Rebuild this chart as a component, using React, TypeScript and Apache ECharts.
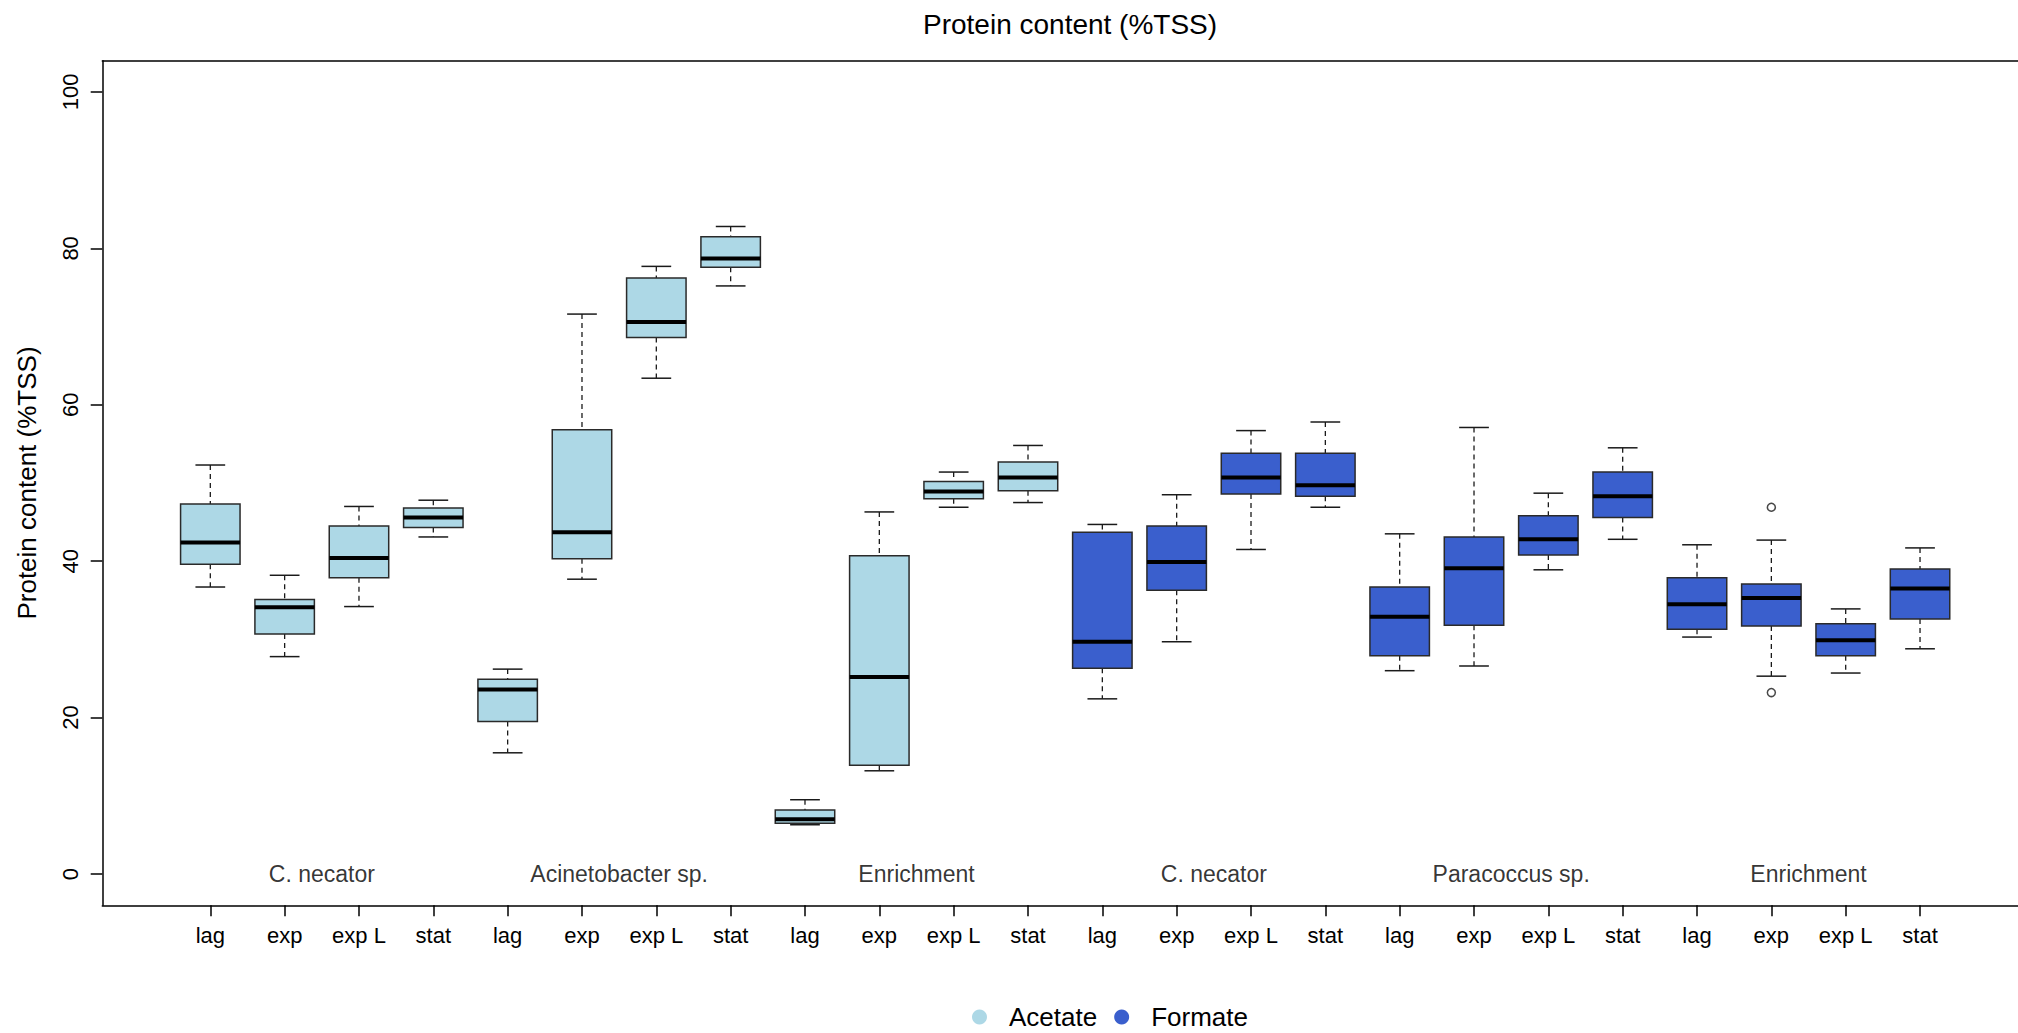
import React, { useEffect, useRef } from "react";
import * as echarts from "echarts";

// ---- data ----
const phaseLabels = ["lag", "exp", "exp L", "stat"];
const groupLabels = ["C. necator", "Acinetobacter sp.", "Enrichment", "C. necator", "Paracoccus sp.", "Enrichment"];
const groupCenters = [2.5, 6.5, 10.5, 14.5, 18.5, 22.5];
const seriesNames = ["Acetate", "Formate"];

const acetatePositions = [1, 2, 3, 4, 5, 6, 7, 8, 9, 10, 11, 12];
const acetateMin = [36.7, 27.8, 34.2, 43.1, 15.5, 37.7, 63.4, 75.2, 6.3, 13.2, 46.9, 47.5];
const acetateQ1 = [39.6, 30.7, 37.9, 44.3, 19.5, 40.3, 68.6, 77.6, 6.5, 13.9, 48.0, 49.0];
const acetateMedian = [42.4, 34.1, 40.4, 45.6, 23.6, 43.7, 70.6, 78.7, 7.0, 25.2, 48.9, 50.7];
const acetateQ3 = [47.3, 35.1, 44.5, 46.8, 24.9, 56.8, 76.2, 81.5, 8.2, 40.7, 50.2, 52.7];
const acetateMax = [52.3, 38.2, 47.0, 47.8, 26.2, 71.6, 77.7, 82.8, 9.5, 46.3, 51.4, 54.8];

const formatePositions = [13, 14, 15, 16, 17, 18, 19, 20, 21, 22, 23, 24];
const formateMin = [22.4, 29.7, 41.5, 46.9, 26.0, 26.6, 38.9, 42.8, 30.3, 25.3, 25.7, 28.8];
const formateQ1 = [26.3, 36.3, 48.6, 48.3, 27.9, 31.8, 40.8, 45.6, 31.3, 31.7, 27.9, 32.6];
const formateMedian = [29.7, 39.9, 50.7, 49.7, 32.9, 39.1, 42.8, 48.3, 34.5, 35.3, 29.9, 36.5];
const formateQ3 = [43.7, 44.5, 53.8, 53.8, 36.7, 43.1, 45.8, 51.4, 37.9, 37.1, 32.0, 39.0];
const formateMax = [44.7, 48.5, 56.7, 57.8, 43.5, 57.1, 48.7, 54.5, 42.1, 42.7, 33.9, 41.7];

const outlierPositions = [22, 22];
const outlierValues = [46.9, 23.2];

const yTickValues = [0, 20, 40, 60, 80, 100];
const xTickValues = [1, 2, 3, 4, 5, 6, 7, 8, 9, 10, 11, 12, 13, 14, 15, 16, 17, 18, 19, 20, 21, 22, 23, 24];

// ---- styles ----
const ACETATE_COLOR = "#ADD8E6";
const FORMATE_COLOR = "#3A5FCD";
const FONT = "'Liberation Sans', Arial, sans-serif";
const BOX_WEX = 0.8;
const X_MIN = -0.453;
const X_MAX = 25.318;

function buildRows(pos: number[], mn: number[], q1: number[], md: number[], q3: number[], mx: number[]) {
  return pos.map((p, i) => [p, mn[i], q1[i], md[i], q3[i], mx[i]]);
}

function renderBox(params: any, api: any) {
  const x = api.value(0);
  const mn = api.value(1);
  const q1 = api.value(2);
  const md = api.value(3);
  const q3 = api.value(4);
  const mx = api.value(5);
  const cx = api.coord([x, md])[0];
  const halfW = api.size([BOX_WEX, 0])[0] / 2;
  const capHalf = halfW / 2;
  const yMin = api.coord([x, mn])[1];
  const yQ1 = api.coord([x, q1])[1];
  const yMd = api.coord([x, md])[1];
  const yQ3 = api.coord([x, q3])[1];
  const yMax = api.coord([x, mx])[1];
  const fill = api.visual("color");
  const lineCol = "#1a1a1a";
  return {
    type: "group",
    children: [
      { type: "line", shape: { x1: cx, y1: yMax, x2: cx, y2: yQ3 }, style: { stroke: lineCol, lineWidth: 1.3, lineDash: [5, 4] } },
      { type: "line", shape: { x1: cx, y1: yQ1, x2: cx, y2: yMin }, style: { stroke: lineCol, lineWidth: 1.3, lineDash: [5, 4] } },
      { type: "line", shape: { x1: cx - capHalf, y1: yMax, x2: cx + capHalf, y2: yMax }, style: { stroke: lineCol, lineWidth: 1.5 } },
      { type: "line", shape: { x1: cx - capHalf, y1: yMin, x2: cx + capHalf, y2: yMin }, style: { stroke: lineCol, lineWidth: 1.5 } },
      { type: "rect", shape: { x: cx - halfW, y: yQ3, width: 2 * halfW, height: yQ1 - yQ3 }, style: { fill, stroke: "#2a2a2a", lineWidth: 1.5 } },
      { type: "line", shape: { x1: cx - halfW, y1: yMd, x2: cx + halfW, y2: yMd }, style: { stroke: "#000", lineWidth: 4 } },
    ],
  };
}

export default function App() {
  const ref = useRef<HTMLDivElement>(null);
  useEffect(() => {
    document.body.style.margin = "0";
    const chart = echarts.init(ref.current!, null, { renderer: "svg" });
    const option: any = {
      animation: false,
      backgroundColor: "#ffffff",
      textStyle: { fontFamily: FONT },
      title: {
        text: "Protein content (%TSS)",
        left: 923,
        top: 10,
        padding: 0,
        textStyle: { fontFamily: FONT, fontSize: 28, fontWeight: "normal", color: "#000" },
      },
      legend: {
        data: seriesNames,
        left: 972,
        top: 1004,
        padding: 0,
        icon: "circle",
        itemWidth: 15,
        itemHeight: 15,
        itemGap: 17,
        textStyle: { fontFamily: FONT, fontSize: 26, color: "#000", padding: [0, 0, 0, 17] },
      },
      grid: { left: 102.3, top: 60.7, right: 0, bottom: 127.7 },
      xAxis: [
        {
          type: "value",
          min: X_MIN,
          max: X_MAX,
          position: "bottom",
          splitLine: { show: false },
          axisLine: { show: true, onZero: false, lineStyle: { color: "#000", width: 1.5 } },
          axisTick: { show: true, customValues: xTickValues, length: 11, lineStyle: { color: "#000", width: 1.5 } },
          axisLabel: {
            customValues: xTickValues,
            formatter: (v: number) => phaseLabels[(Math.round(v) - 1) % 4],
            fontFamily: FONT,
            fontSize: 22,
            color: "#000",
            margin: 19,
          },
        },
        {
          type: "value",
          min: X_MIN,
          max: X_MAX,
          position: "top",
          splitLine: { show: false },
          axisLine: { show: true, onZero: false, lineStyle: { color: "#000", width: 1.5 } },
          axisTick: { show: false },
          axisLabel: { show: false },
        },
      ],
      yAxis: {
        type: "value",
        min: -4,
        max: 104,
        name: "Protein content (%TSS)",
        nameLocation: "middle",
        nameGap: 62,
        nameTextStyle: { fontFamily: FONT, fontSize: 26, color: "#000" },
        splitLine: { show: false },
        axisLine: { show: true, onZero: false, lineStyle: { color: "#000", width: 1.5 } },
        axisTick: { show: true, customValues: yTickValues, length: 11.6, lineStyle: { color: "#000", width: 1.5 } },
        axisLabel: {
          customValues: yTickValues,
          rotate: 90,
          fontFamily: FONT,
          fontSize: 22,
          color: "#000",
          margin: 21,
        },
      },
      series: [
        {
          name: "Acetate",
          type: "custom",
          renderItem: renderBox,
          itemStyle: { color: ACETATE_COLOR },
          encode: { x: 0, y: [1, 2, 3, 4, 5] },
          data: buildRows(acetatePositions, acetateMin, acetateQ1, acetateMedian, acetateQ3, acetateMax),
        },
        {
          name: "Formate",
          type: "custom",
          renderItem: renderBox,
          itemStyle: { color: FORMATE_COLOR },
          encode: { x: 0, y: [1, 2, 3, 4, 5] },
          data: buildRows(formatePositions, formateMin, formateQ1, formateMedian, formateQ3, formateMax),
        },
        {
          name: "outliers",
          type: "scatter",
          symbol: "circle",
          symbolSize: 8,
          itemStyle: { color: "#fff", borderColor: "#1a1a1a", borderWidth: 1.5 },
          data: outlierPositions.map((p, i) => [p, outlierValues[i]]),
          silent: true,
        },
        {
          name: "groups",
          type: "scatter",
          symbolSize: 0,
          silent: true,
          itemStyle: { color: "#000" },
          data: groupCenters.map((c, i) => ({ value: [c, 0], name: groupLabels[i] })),
          label: {
            show: true,
            position: "inside",
            formatter: (p: any) => p.name,
            fontFamily: FONT,
            fontSize: 23,
            color: "#000",
            textBorderWidth: 0,
          },
        },
      ],
    };
    chart.setOption(option);
    return () => chart.dispose();
  }, []);
  return <div ref={ref} style={{ position: "absolute", left: 0, top: 0, width: 2018, height: 1033 }} />;
}
